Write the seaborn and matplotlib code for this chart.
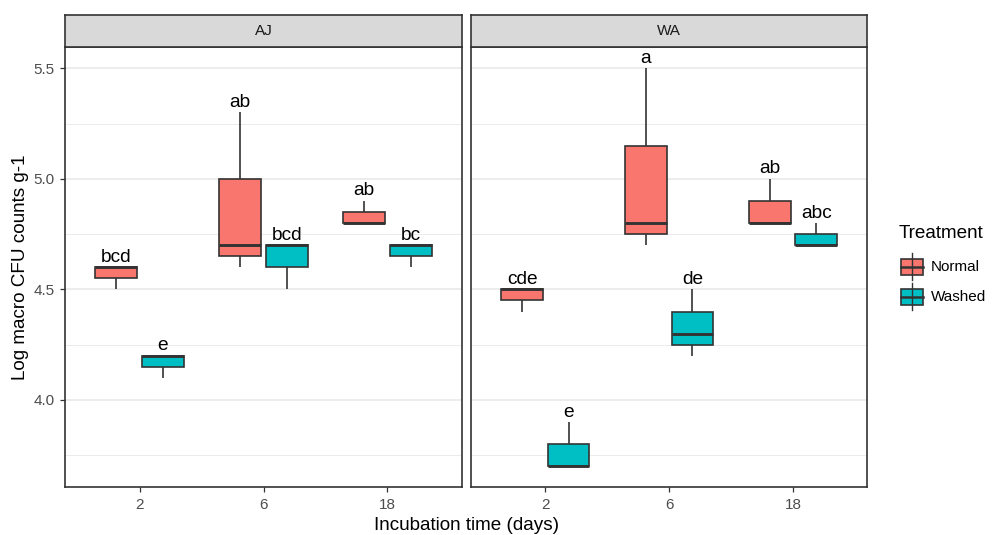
import numpy as np
import pandas as pd
import matplotlib
matplotlib.use("Agg")
import matplotlib.pyplot as plt
import seaborn as sns
from matplotlib.patches import Rectangle
from matplotlib.ticker import MultipleLocator

# ── data ────────────────────────────────────────────────────
days = ["2", "6", "18"]
sites = ["AJ", "WA"]
treatments = ["Normal", "Washed"]
colors = ["#F8766D", "#00BFC4"]

# three replicates per group, one inner list per day (2, 6, 18)
aj_normal = [[4.5, 4.6, 4.6], [4.6, 4.7, 5.3], [4.8, 4.8, 4.9]]
aj_washed = [[4.1, 4.2, 4.2], [4.5, 4.7, 4.7], [4.6, 4.7, 4.7]]
wa_normal = [[4.4, 4.5, 4.5], [4.7, 4.8, 5.5], [4.8, 4.8, 5.0]]
wa_washed = [[3.7, 3.7, 3.9], [4.2, 4.3, 4.5], [4.7, 4.7, 4.8]]

aj_normal_letters = ["bcd", "ab", "ab"]
aj_washed_letters = ["e", "bcd", "bc"]
wa_normal_letters = ["cde", "a", "ab"]
wa_washed_letters = ["e", "de", "abc"]

groups = {
    ("AJ", "Normal"): (aj_normal, aj_normal_letters),
    ("AJ", "Washed"): (aj_washed, aj_washed_letters),
    ("WA", "Normal"): (wa_normal, wa_normal_letters),
    ("WA", "Washed"): (wa_washed, wa_washed_letters),
}

rows = []
for (site, trt), (vals, _) in groups.items():
    for day, reps in zip(days, vals):
        for v in reps:
            rows.append({"Site": site, "Day": day, "Treatment": trt, "Value": v})
df = pd.DataFrame(rows)

# ── style ───────────────────────────────────────────────────
plt.rcParams["font.family"] = ["Liberation Sans", "DejaVu Sans"]
W, H = 996, 535
edge = "#333333"
grid_c = "#EBEBEB"
ylim = (3.608, 5.5945)
box_w = 0.75

fig = plt.figure(figsize=(W / 100, H / 100), dpi=100)

panel_left = {"AJ": 65.3, "WA": 471.0}
panel_w = 396.4
top_px, bot_px = 47.3, 486.7
strip_top = 15.3

for site in sites:
    x0 = panel_left[site]
    ax = fig.add_axes([x0 / W, 1 - bot_px / H, panel_w / W, (bot_px - top_px) / H])
    ax.set_axisbelow(True)
    ax.yaxis.set_major_locator(MultipleLocator(0.5))
    ax.yaxis.set_minor_locator(MultipleLocator(0.25))
    ax.grid(which="major", color=grid_c, lw=1.3)
    ax.grid(which="minor", axis="y", color=grid_c, lw=0.7)

    sub = df[df["Site"] == site]
    sns.boxplot(data=sub, x="Day", y="Value", hue="Treatment",
                order=days, hue_order=treatments, palette=colors,
                saturation=1, width=box_w, gap=0.1, whis=1.5,
                linecolor=edge, linewidth=1.2, showcaps=False,
                medianprops={"linewidth": 2.1, "color": edge},
                legend=False, ax=ax)

    # significance letters above each group's maximum
    for j, trt in enumerate(treatments):
        vals, letters = groups[(site, trt)]
        offset = (j - 0.5) * box_w / 2
        for i, (reps, lab) in enumerate(zip(vals, letters)):
            ax.text(i + offset, max(reps) + 0.025, lab, ha="center",
                    va="baseline", fontsize=13.8, color="black")

    ax.set_xlim(-0.6, 2.6)
    ax.set_ylim(*ylim)
    ax.set_xlabel("")
    ax.set_ylabel("")
    for sp in ax.spines.values():
        sp.set_color(edge)
        sp.set_linewidth(1.2)
    ax.tick_params(which="major", length=3.4, width=0.9, color=edge,
                   labelcolor="#4D4D4D", labelsize=11, pad=4.5)
    ax.tick_params(which="minor", length=0)
    ax.set_yticks([4.0, 4.5, 5.0, 5.5])
    ax.set_yticklabels(["4.0", "4.5", "5.0", "5.5"])
    if site != "AJ":
        ax.tick_params(axis="y", which="both", left=False, labelleft=False)

    # facet strip
    sax = fig.add_axes([x0 / W, 1 - top_px / H, panel_w / W, (top_px - strip_top) / H])
    sax.set_facecolor("#D9D9D9")
    sax.set_xticks([])
    sax.set_yticks([])
    for sp in sax.spines.values():
        sp.set_color(edge)
        sp.set_linewidth(1.2)
    sax.text(0.5, 0.5, site, ha="center", va="center", fontsize=11,
             color="#1A1A1A", transform=sax.transAxes)

fig.text(21 / W, 1 - 267 / H, "Log macro CFU counts g-1", rotation=90,
         ha="center", va="center", fontsize=13.6)
fig.text(466 / W, 1 - 530 / H, "Incubation time (days)",
         ha="center", va="baseline", fontsize=13.6)

# ── legend ──────────────────────────────────────────────────
lax = fig.add_axes([880 / W, 1 - 320 / H, 116 / W, 110 / H])
lax.set_xlim(880, 996)
lax.set_ylim(320, 210)
lax.axis("off")
lax.text(899, 234, "Treatment", ha="left", va="center", fontsize=13.6)
key_y = [267.5, 297.5]
for trt, col, yc in zip(treatments, colors, key_y):
    lax.plot([912, 912], [yc - 14, yc + 13], color=edge, lw=1.0)
    lax.add_patch(Rectangle((901, yc - 8), 22, 16, facecolor=col,
                            edgecolor=edge, lw=1.2))
    lax.plot([901, 923], [yc, yc], color=edge, lw=1.8)
    lax.text(931, yc, trt, ha="left", va="center", fontsize=11)

fig.savefig("out.png", dpi=100)
